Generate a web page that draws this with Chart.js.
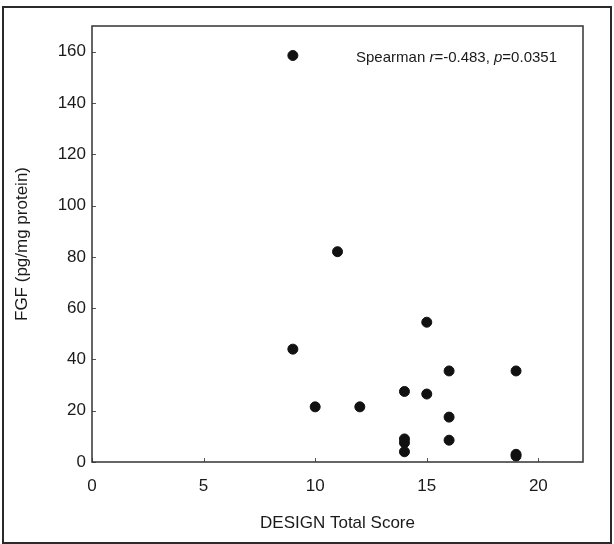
<!DOCTYPE html>
<html lang="en">
  <head>
    <meta charset="UTF-8" />
    <title>FGF vs DESIGN Total Score</title>
    <script src="https://cdn.jsdelivr.net/npm/chart.js"></script>
    <style>
      body {
        margin: 0;
        background: #fff;
      }
      .container {
        width: 614px;
        height: 544px;
      }
    </style>
  </head>
  <body>
    <div class="container">
      <canvas id="myChart" width="614" height="544"></canvas>
    </div>

    <script>
      // DESIGN total score (x) and FGF level (y), one entry per subject
      var designScores = [9, 11, 9, 10, 12, 14, 14, 14, 14, 15, 15, 16, 16, 16, 19, 19, 19];
      var fgfValues = [158.5, 82, 44, 21.5, 21.5, 27.5, 9, 7.5, 4, 54.5, 26.5, 35.5, 17.5, 8.5, 35.5, 3, 2.3];
      var xTicks = [0, 5, 10, 15, 20];
      var yTicks = [0, 20, 40, 60, 80, 100, 120, 140, 160];

      var textColor = "#1a1a1a";
      var fontFamily = "'Liberation Sans', Arial, sans-serif";

      // inward tick marks, plot frame, outer frame and the Spearman note
      var decorations = {
        id: "decorations",
        afterDraw: function(chart) {
          var ctx = chart.ctx;
          var area = chart.chartArea;
          var xs = chart.scales.x;
          var ys = chart.scales.y;
          ctx.save();

          ctx.strokeStyle = "#555";
          ctx.lineWidth = 1;
          xTicks.forEach(function(v) {
            var px = Math.round(xs.getPixelForValue(v)) + 0.5;
            ctx.beginPath();
            ctx.moveTo(px, area.bottom);
            ctx.lineTo(px, area.bottom - 4);
            ctx.stroke();
          });
          yTicks.forEach(function(v) {
            var py = Math.round(ys.getPixelForValue(v)) + 0.5;
            ctx.beginPath();
            ctx.moveTo(area.left, py);
            ctx.lineTo(area.left + 4, py);
            ctx.stroke();
          });

          ctx.strokeStyle = "#333";
          ctx.lineWidth = 1.5;
          ctx.strokeRect(area.left, area.top, area.right - area.left, area.bottom - area.top);

          ctx.lineWidth = 2;
          ctx.strokeStyle = "#2a2a2a";
          ctx.strokeRect(3, 7, 608, 536);

          // Spearman annotation, right aligned inside the plot
          var parts = [
            ["Spearman ", false],
            ["r", true],
            ["=-0.483, ", false],
            ["p", true],
            ["=0.0351", false]
          ];
          var size = 15;
          var total = 0;
          parts.forEach(function(p) {
            ctx.font = (p[1] ? "italic " : "") + size + "px " + fontFamily;
            total += ctx.measureText(p[0]).width;
          });
          var tx = area.right - 26 - total;
          var ty = area.top + 32;
          ctx.fillStyle = textColor;
          ctx.textBaseline = "middle";
          parts.forEach(function(p) {
            ctx.font = (p[1] ? "italic " : "") + size + "px " + fontFamily;
            ctx.fillText(p[0], tx, ty);
            tx += ctx.measureText(p[0]).width;
          });
          ctx.restore();
        }
      };

      var points = [];
      for (var i = 0; i < designScores.length; i++) {
        points.push({ x: designScores[i], y: fgfValues[i] });
      }

      var ctx = document.getElementById("myChart").getContext("2d");
      new Chart(ctx, {
        type: "scatter",
        data: {
          datasets: [{
            label: "FGF",
            data: points,
            backgroundColor: "#111",
            borderColor: "#111",
            pointRadius: 5,
            pointHoverRadius: 5
          }]
        },
        options: {
          responsive: false,
          animation: false,
          layout: {
            padding: { top: 26, right: 31, left: 0, bottom: 0 }
          },
          plugins: {
            legend: { display: false },
            tooltip: { enabled: false }
          },
          scales: {
            x: {
              type: "linear",
              min: 0,
              max: 22,
              afterFit: function(scale) { scale.height = 82; },
              grid: { display: false, drawTicks: false },
              border: { display: false },
              ticks: {
                stepSize: 5,
                includeBounds: false,
                padding: 14,
                color: textColor,
                font: { family: fontFamily, size: 17 }
              },
              title: {
                display: true,
                text: "DESIGN Total Score",
                color: textColor,
                font: { family: fontFamily, size: 17 },
                padding: { top: 0, bottom: 10 }
              }
            },
            y: {
              type: "linear",
              min: 0,
              max: 170,
              afterFit: function(scale) { scale.width = 92; },
              grid: { display: false, drawTicks: false },
              border: { display: false },
              ticks: {
                stepSize: 20,
                includeBounds: false,
                padding: 6,
                color: textColor,
                font: { family: fontFamily, size: 17 }
              },
              title: {
                display: true,
                text: "FGF (pg/mg protein)",
                color: textColor,
                font: { family: fontFamily, size: 17 },
                padding: { top: 12, bottom: 0 }
              }
            }
          }
        },
        plugins: [decorations]
      });
    </script>
  </body>
</html>
